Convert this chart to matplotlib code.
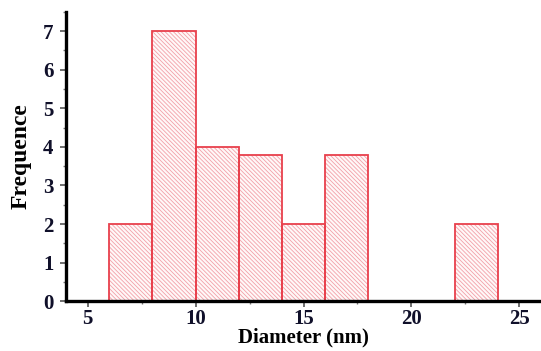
import numpy as np
import matplotlib.pyplot as plt
from matplotlib.ticker import MultipleLocator

# bin edges (nm) and counts
left_edges = [6, 8, 10, 12, 14, 16, 22]
counts = [2, 7, 4, 3.8, 2, 3.8, 2]
bin_width = 2

plt.rcParams['font.family'] = ['Liberation Serif', 'DejaVu Serif']
plt.rcParams['hatch.linewidth'] = 0.6

fig = plt.figure(figsize=(5.41, 3.51), dpi=100)
ax = fig.add_axes([0.122, 0.142, 0.878, 0.824])

# hatch layer (light pink), then red outline on top
ax.bar(left_edges, counts, width=bin_width, align='edge', color='#fff8f8',
       edgecolor='#f2a0a8', hatch='\\' * 8, linewidth=0)
ax.bar(left_edges, counts, width=bin_width, align='edge', fill=False,
       edgecolor='#e8404c', linewidth=1.3)

ax.set_xlim(4, 26)
ax.set_ylim(0, 7.5)
ax.xaxis.set_major_locator(MultipleLocator(5))
ax.xaxis.set_minor_locator(MultipleLocator(2.5))
ax.yaxis.set_major_locator(MultipleLocator(1))
ax.yaxis.set_minor_locator(MultipleLocator(0.5))

for s in ['top', 'right']:
    ax.spines[s].set_visible(False)
for s in ['left', 'bottom']:
    ax.spines[s].set_linewidth(2.4)
    ax.spines[s].set_color('black')

ax.tick_params(which='major', direction='out', length=4, width=1.2,
               labelsize=15, colors='#555', labelcolor='#10102a')
ax.tick_params(axis='y', which='major', pad=5)
ax.tick_params(axis='x', which='major', pad=1.5)
ax.tick_params(which='minor', direction='out', length=2.5, width=1, colors='#777')
for lab in ax.get_xticklabels() + ax.get_yticklabels():
    lab.set_fontweight('bold')

ax.set_xlabel('Diameter (nm)', fontsize=15, fontweight='bold', labelpad=-1)
ax.set_ylabel('Frequence', fontsize=17, fontweight='bold', labelpad=8)

fig.savefig('out.png', dpi=100)
